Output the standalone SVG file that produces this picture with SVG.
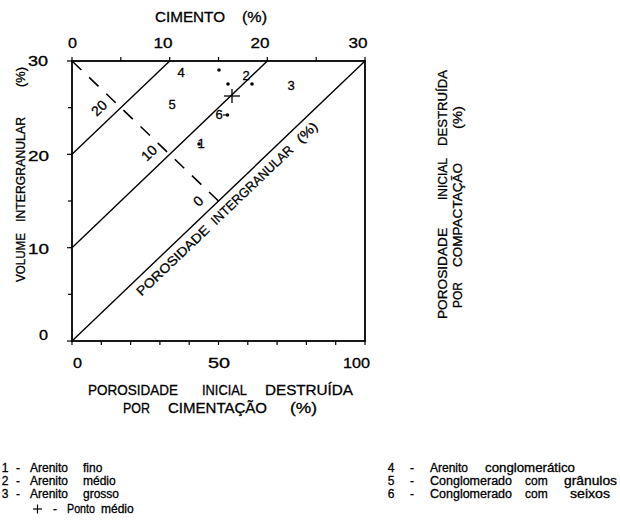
<svg xmlns="http://www.w3.org/2000/svg" width="620" height="526" viewBox="0 0 620 526">
<style>
text{font-family:"Liberation Sans",Arial,sans-serif;fill:#000;stroke:#000;stroke-width:0.3}
.ax{fill:none;stroke:#000;stroke-width:1.8}
.ln{fill:none;stroke:#000;stroke-width:1.4}
.tk{stroke:#000;stroke-width:1.2}
.ds{fill:none;stroke:#000;stroke-width:1.6;stroke-dasharray:13 10.7}
.f12{font-size:12px}
.f13{font-size:13px}
.f14{font-size:14px}
.m{text-anchor:middle}
.e{text-anchor:end}
</style>
<rect width="620" height="526" fill="#fff"/>
<g id="frame">
<rect class="ax" x="72" y="61" width="293" height="280"/>
<g id="ticks-left" class="tk">
<line x1="67" y1="61" x2="72" y2="61"/><line x1="68" y1="107.7" x2="72" y2="107.7"/>
<line x1="67" y1="154.3" x2="72" y2="154.3"/><line x1="68" y1="201" x2="72" y2="201"/>
<line x1="67" y1="247.7" x2="72" y2="247.7"/><line x1="68" y1="294.3" x2="72" y2="294.3"/>
<line x1="67" y1="341" x2="72" y2="341"/>
</g>
<g id="ticks-top" class="tk">
<line x1="72" y1="57" x2="72" y2="61"/><line x1="120.8" y1="57" x2="120.8" y2="61"/>
<line x1="169.7" y1="57" x2="169.7" y2="61"/><line x1="218.5" y1="57" x2="218.5" y2="61"/>
<line x1="267.3" y1="57" x2="267.3" y2="61"/><line x1="316.2" y1="57" x2="316.2" y2="61"/>
<line x1="365" y1="57" x2="365" y2="61"/>
</g>
<g id="ticks-bottom" class="tk">
<line x1="72" y1="341" x2="72" y2="345"/><line x1="101.3" y1="341" x2="101.3" y2="345"/>
<line x1="130.6" y1="341" x2="130.6" y2="345"/><line x1="159.9" y1="341" x2="159.9" y2="345"/>
<line x1="189.2" y1="341" x2="189.2" y2="345"/><line x1="218.5" y1="341" x2="218.5" y2="345"/>
<line x1="247.8" y1="341" x2="247.8" y2="345"/><line x1="277.1" y1="341" x2="277.1" y2="345"/>
<line x1="306.4" y1="341" x2="306.4" y2="345"/><line x1="335.7" y1="341" x2="335.7" y2="345"/>
<line x1="365" y1="341" x2="365" y2="345"/>
</g>
</g>
<g id="connectors">
<line class="ln" x1="72" y1="154.3" x2="169.7" y2="61"/>
<line class="ln" x1="72" y1="247.7" x2="267.3" y2="61"/>
<line class="ln" x1="72" y1="341" x2="365" y2="61"/>
<line class="ds" x1="72" y1="61" x2="218.5" y2="201"/>
</g>
<g id="iso-labels" class="f14">
<text class="m" transform="translate(99,108) rotate(-43.7)" y="5">20</text>
<text class="m" transform="translate(149,153) rotate(-43.7)" y="5">10</text>
<text class="m" transform="translate(198,201) rotate(-43.7)" y="5">0</text>
</g>
<g id="diag-label" class="f13" transform="translate(72,341) rotate(-43.7)">
<text x="81" y="16" textLength="95" lengthAdjust="spacingAndGlyphs">POROSIDADE</text>
<text x="184" y="16" textLength="108" lengthAdjust="spacingAndGlyphs">INTERGRANULAR</text>
<text x="302" y="16" textLength="24" lengthAdjust="spacingAndGlyphs">(%)</text>
</g>
<g id="points">
<circle cx="219" cy="70" r="1.8"/>
<circle cx="228" cy="84" r="1.8"/>
<circle cx="252" cy="84" r="1.8"/>
<circle cx="227.5" cy="115" r="1.8"/>
<line class="tk" x1="223" y1="115" x2="227" y2="115"/>
<circle cx="199" cy="144" r="1.8"/>
<g id="ponto-medio" class="tk" style="stroke-width:1.3">
<line x1="224" y1="96" x2="240" y2="96"/>
<line x1="232" y1="89" x2="232" y2="103"/>
</g>
</g>
<g id="region-labels" class="f13 m">
<text x="181" y="76.5">4</text>
<text x="172" y="108.5">5</text>
<text x="291" y="89.5">3</text>
<text x="246" y="80">2</text>
<text x="219" y="119">6</text>
<text x="201" y="147.5">1</text>
</g>
<g id="axis-top">
<text class="f14" x="155" y="22" textLength="70" lengthAdjust="spacingAndGlyphs">CIMENTO</text>
<text class="f14" x="242" y="22" textLength="25" lengthAdjust="spacingAndGlyphs">(%)</text>
<g class="f14">
<text x="68" y="48" textLength="9" lengthAdjust="spacingAndGlyphs">0</text>
<text x="153.5" y="48" textLength="19" lengthAdjust="spacingAndGlyphs">10</text>
<text x="250.5" y="48" textLength="19" lengthAdjust="spacingAndGlyphs">20</text>
<text x="348.5" y="48" textLength="19" lengthAdjust="spacingAndGlyphs">30</text>
</g>
</g>
<g id="axis-left">
<g class="f14">
<text x="28" y="66" textLength="20" lengthAdjust="spacingAndGlyphs">30</text>
<text x="28" y="161" textLength="21" lengthAdjust="spacingAndGlyphs">20</text>
<text x="28" y="254" textLength="21" lengthAdjust="spacingAndGlyphs">10</text>
<text x="39" y="340" textLength="9" lengthAdjust="spacingAndGlyphs">0</text>
</g>
<g class="f13" transform="rotate(-90)">
<text x="-282" y="25" textLength="49" lengthAdjust="spacingAndGlyphs">VOLUME</text>
<text x="-222" y="25" textLength="105" lengthAdjust="spacingAndGlyphs">INTERGRANULAR</text>
<text x="-87" y="25" textLength="20" lengthAdjust="spacingAndGlyphs">(%)</text>
</g>
</g>
<g id="axis-bottom">
<g class="f14">
<text x="73" y="368" textLength="9" lengthAdjust="spacingAndGlyphs">0</text>
<text x="208" y="368" textLength="22" lengthAdjust="spacingAndGlyphs">50</text>
<text x="343" y="368" textLength="27" lengthAdjust="spacingAndGlyphs">100</text>
</g>
<g class="f14">
<text x="88" y="394.5" textLength="90" lengthAdjust="spacingAndGlyphs">POROSIDADE</text>
<text x="202" y="394.5" textLength="45" lengthAdjust="spacingAndGlyphs">INICIAL</text>
<text x="265" y="394.5" textLength="88" lengthAdjust="spacingAndGlyphs">DESTRUÍDA</text>
<text x="123" y="413" textLength="27" lengthAdjust="spacingAndGlyphs">POR</text>
<text x="168" y="413" textLength="99" lengthAdjust="spacingAndGlyphs">CIMENTAÇÃO</text>
<text x="290" y="413" textLength="27" lengthAdjust="spacingAndGlyphs">(%)</text>
</g>
</g>
<g id="axis-right" class="f13" transform="rotate(-90)">
<text x="-319" y="447" textLength="91" lengthAdjust="spacingAndGlyphs">POROSIDADE</text>
<text x="-200" y="447" textLength="42" lengthAdjust="spacingAndGlyphs">INICIAL</text>
<text x="-146" y="447" textLength="76" lengthAdjust="spacingAndGlyphs">DESTRUÍDA</text>
<text x="-308" y="462" textLength="26" lengthAdjust="spacingAndGlyphs">POR</text>
<text x="-267" y="462" textLength="104" lengthAdjust="spacingAndGlyphs">COMPACTAÇÃO</text>
<text x="-129" y="462" textLength="23" lengthAdjust="spacingAndGlyphs">(%)</text>
</g>
<g id="legend" class="f12">
<g id="leg-1"><text x="5" y="472" class="m">1</text><text x="18" y="472" class="m">-</text><text x="30" y="472">Arenito</text><text x="83" y="472">fino</text></g>
<g id="leg-2"><text x="5" y="485" class="m">2</text><text x="18" y="485" class="m">-</text><text x="30" y="485">Arenito</text><text x="83" y="485">médio</text></g>
<g id="leg-3"><text x="5" y="498" class="m">3</text><text x="18" y="498" class="m">-</text><text x="30" y="498">Arenito</text><text x="83" y="498">grosso</text></g>
<g id="leg-plus"><line class="tk" x1="33" y1="509" x2="42" y2="509"/><line class="tk" x1="37.5" y1="504.5" x2="37.5" y2="513.5"/><text x="55" y="513" class="m">-</text><text x="67" y="513" textLength="28" lengthAdjust="spacingAndGlyphs">Ponto</text><text x="101" y="513">médio</text></g>
<g id="leg-4"><text x="391" y="472" class="m">4</text><text x="412" y="472" class="m">-</text><text x="430" y="472">Arenito</text><text x="485" y="472" textLength="90" lengthAdjust="spacingAndGlyphs">conglomerático</text></g>
<g id="leg-5"><text x="391" y="485" class="m">5</text><text x="412" y="485" class="m">-</text><text x="430" y="485" textLength="82" lengthAdjust="spacingAndGlyphs">Conglomerado</text><text x="525" y="485">com</text><text x="564" y="485" textLength="53" lengthAdjust="spacingAndGlyphs">grânulos</text></g>
<g id="leg-6"><text x="391" y="498" class="m">6</text><text x="412" y="498" class="m">-</text><text x="430" y="498" textLength="82" lengthAdjust="spacingAndGlyphs">Conglomerado</text><text x="525" y="498">com</text><text x="570" y="498" textLength="40" lengthAdjust="spacingAndGlyphs">seixos</text></g>
</g>
</svg>
